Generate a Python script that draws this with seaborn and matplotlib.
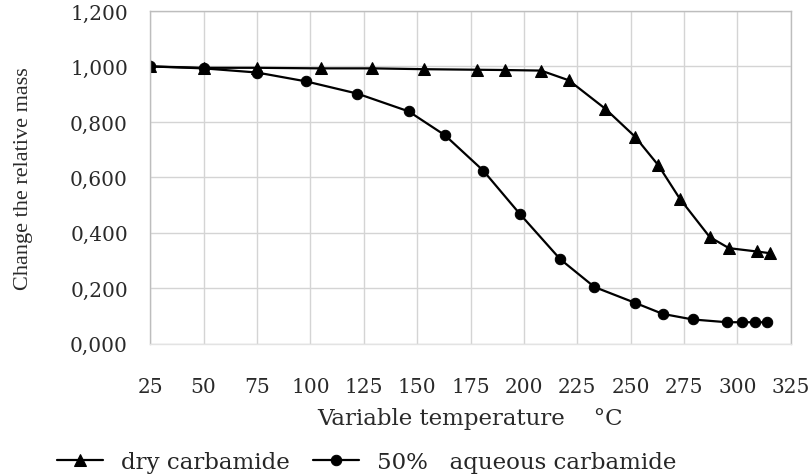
import numpy as np
import pandas as pd
import seaborn as sns
import matplotlib.pyplot as plt
from matplotlib.ticker import FuncFormatter

# data
dry_temp = [25, 50, 75, 105, 129, 153, 178, 191, 208, 221, 238, 252, 263, 273, 287, 296, 309, 315]
dry_mass = [1.000, 0.995, 0.995, 0.993, 0.993, 0.990, 0.988, 0.987, 0.985, 0.950, 0.848, 0.747,
            0.643, 0.523, 0.385, 0.345, 0.333, 0.327]

aq_temp = [25, 50, 75, 98, 122, 146, 163, 181, 198, 217, 233, 252, 265, 279, 295, 302, 308, 314]
aq_mass = [1.000, 0.993, 0.978, 0.946, 0.902, 0.838, 0.752, 0.624, 0.469, 0.305, 0.205, 0.148,
           0.108, 0.088, 0.078, 0.078, 0.078, 0.078]

x_ticks = [25, 50, 75, 100, 125, 150, 175, 200, 225, 250, 275, 300, 325]
y_ticks = [0.0, 0.2, 0.4, 0.6, 0.8, 1.0, 1.2]

dry = pd.DataFrame({'temp': dry_temp, 'mass': dry_mass})
aq = pd.DataFrame({'temp': aq_temp, 'mass': aq_mass})

sns.set_style('white')
# the reference text is a wide-looking serif, DejaVu Serif gets the widths close
plt.rcParams['font.family'] = ['DejaVu Serif']

fig = plt.figure(figsize=(8.12, 4.77), dpi=100)
ax = fig.add_axes([0.185, 0.277, 0.789, 0.698])

sns.lineplot(data=dry, x='temp', y='mass', ax=ax, color='black', linewidth=1.6,
             marker='^', markersize=8, markeredgecolor='black', label='dry carbamide')
sns.lineplot(data=aq, x='temp', y='mass', ax=ax, color='black', linewidth=1.6,
             marker='o', markersize=7.5, markeredgecolor='black', label='50%   aqueous carbamide')

ax.set_xlim(25, 325)
ax.set_ylim(0, 1.2)
ax.set_xticks(x_ticks)
ax.set_yticks(y_ticks)
ax.yaxis.set_major_formatter(FuncFormatter(lambda v, p: f'{v:.3f}'.replace('.', ',')))
ax.grid(True, color='#d4d4d4', linewidth=1)
ax.tick_params(axis='both', length=0, labelsize=14.5, colors='#2a2a2a')
ax.tick_params(axis='x', pad=24)
ax.tick_params(axis='y', pad=16)
for s in ax.spines.values():
    s.set_color('#bdbdbd')
    s.set_linewidth(1)
ax.spines['bottom'].set_color('#e3e3e3')

ax.set_xlabel('Variable temperature    \u00b0C', fontsize=16.5, color='#2a2a2a')
ax.xaxis.set_label_coords(0.5, -0.19)
ax.set_ylabel('Change the relative mass', fontsize=16, color='#2a2a2a',
              family=['Liberation Serif', 'DejaVu Serif'])
ax.yaxis.set_label_coords(-0.183, 0.5)

ax.legend_.remove()
h, l = ax.get_legend_handles_labels()
fig.legend(h, l, loc='center left', bbox_to_anchor=(0.07, 0.03), ncol=2, frameon=False,
           fontsize=16.5, handlelength=2.0, columnspacing=1.0, handletextpad=0.8,
           borderpad=0, borderaxespad=0)

fig.savefig('out.png', dpi=100)
